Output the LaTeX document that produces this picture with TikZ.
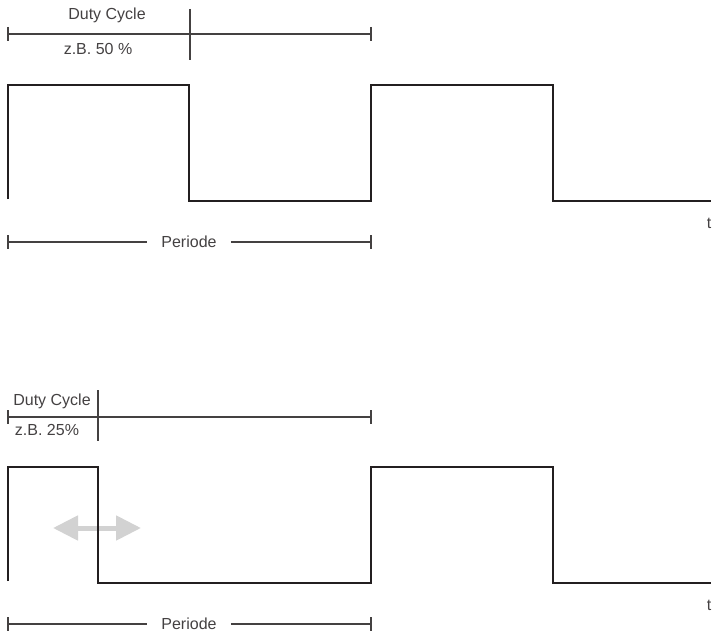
\documentclass[tikz,border=0pt]{standalone}
\usepackage{fontspec}
\setmainfont{Liberation Sans}
\usetikzlibrary{arrows.meta}
\definecolor{ink}{HTML}{231F20}
\definecolor{arrowgrey}{HTML}{D2D2D2}
\tikzset{
  signal/.style={line width=2.4pt,draw=ink,line join=miter},
  dimline/.style={line width=1.1pt,draw=ink!85},
  lbl/.style={inner sep=0pt,anchor=base,text=ink!85,font=\fontsize{16}{19}\selectfont},
  perlbl/.style={inner ysep=0pt,inner xsep=14pt,text=ink!85,font=\fontsize{16}{19}\selectfont},
  shiftarrow/.style={line width=5pt,draw=arrowgrey,{Triangle[length=25pt,width=24pt]}-{Triangle[length=25pt,width=24pt]}},
}
\begin{document}
\begin{tikzpicture}[x=1pt,y=-1pt]
  \useasboundingbox (0,0) rectangle (717,634);
  % upper signal, 50 %
  \coordinate (a0) at (8,199);
  \coordinate (a1) at (8,85);
  \coordinate (a2) at (189,85);
  \coordinate (a3) at (189,201);
  \coordinate (a4) at (371,201);
  \coordinate (a5) at (371,85);
  \coordinate (a6) at (553,85);
  \coordinate (a7) at (553,201);
  \coordinate (a8) at (711,201);
  \draw[signal] (a0)--(a1)--(a2)--(a3)--(a4)--(a5)--(a6)--(a7)--(a8);
  \coordinate (adl) at (8,34);
  \coordinate (adr) at (371,34);
  \coordinate (adt) at (190,9);
  \coordinate (adb) at (190,60);
  \draw[dimline] (adl)--(adr);
  \draw[dimline] (adl) ++(0,-7) -- ++(0,14);
  \draw[dimline] (adr) ++(0,-7) -- ++(0,14);
  \draw[dimline] (adt)--(adb);
  \node[lbl] (aduty) at (107,19.5) {Duty Cycle};
  \node[lbl] (aval) at (98,55) {z.B. 50 \%};
  \node[lbl] (at) at (709,228) {t};
  \coordinate (apl) at (8,242);
  \coordinate (apr) at (371,242);
  \node[perlbl] (aper) at (189,242) {Periode};
  \draw[dimline] (apl)--(aper.west);
  \draw[dimline] (aper.east)--(apr);
  \draw[dimline] (apl) ++(0,-7) -- ++(0,14);
  \draw[dimline] (apr) ++(0,-7) -- ++(0,14);
  % lower signal, 25 %
  \coordinate (bal) at (53,528);
  \coordinate (bar) at (141,528);
  \draw[shiftarrow] (bal)--(bar);
  \coordinate (b0) at (8,581);
  \coordinate (b1) at (8,467);
  \coordinate (b2) at (98,467);
  \coordinate (b3) at (98,583);
  \coordinate (b4) at (371,583);
  \coordinate (b5) at (371,467);
  \coordinate (b6) at (553,467);
  \coordinate (b7) at (553,583);
  \coordinate (b8) at (711,583);
  \draw[signal] (b0)--(b1)--(b2)--(b3)--(b4)--(b5)--(b6)--(b7)--(b8);
  \coordinate (bdl) at (8,417);
  \coordinate (bdr) at (371,417);
  \coordinate (bdt) at (98,390);
  \coordinate (bdb) at (98,441);
  \draw[dimline] (bdl)--(bdr);
  \draw[dimline] (bdl) ++(0,-7) -- ++(0,14);
  \draw[dimline] (bdr) ++(0,-7) -- ++(0,14);
  \draw[dimline] (bdt)--(bdb);
  \node[lbl] (bduty) at (52,405) {Duty Cycle};
  \node[lbl] (bval) at (47,435) {z.B. 25\%};
  \node[lbl] (bt) at (709,610) {t};
  \coordinate (bpl) at (8,624);
  \coordinate (bpr) at (371,624);
  \node[perlbl] (bper) at (189,624) {Periode};
  \draw[dimline] (bpl)--(bper.west);
  \draw[dimline] (bper.east)--(bpr);
  \draw[dimline] (bpl) ++(0,-7) -- ++(0,14);
  \draw[dimline] (bpr) ++(0,-7) -- ++(0,14);
\end{tikzpicture}
\end{document}
